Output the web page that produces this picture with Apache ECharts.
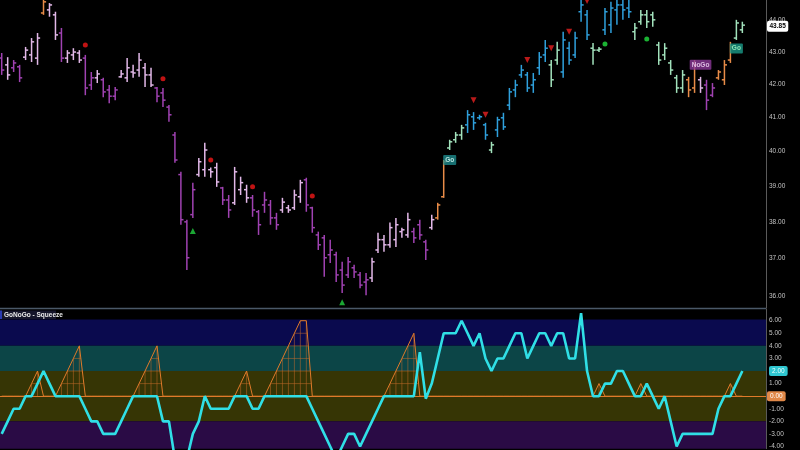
<!DOCTYPE html>
<html><head><meta charset="utf-8">
<script src="https://cdn.jsdelivr.net/npm/echarts@6/dist/echarts.min.js"></script>
<style>html,body{margin:0;padding:0;background:#000;}#c{width:800px;height:450px;}</style>
</head><body><div id="c"></div>
<script>
// ---------- DATA ----------
const opens = [42.81,42.60,42.51,42.54,42.84,42.91,42.81,44.24,44.34,44.18,
43.60,42.81,42.91,42.97,42.81,41.98,42.20,42.14,41.83,41.64,
42.23,42.20,42.38,42.44,42.51,42.29,41.89,41.74,41.31,40.48,
39.33,38.00,38.20,39.33,39.47,39.47,39.53,38.95,38.61,38.53,
38.90,38.90,38.67,38.28,38.47,38.47,38.11,38.33,38.39,38.39,
38.70,39.18,38.39,37.64,37.56,37.10,37.10,36.69,36.56,36.75,
36.56,36.37,36.48,37.23,37.51,37.37,37.51,37.73,37.64,37.73,
37.92,37.45,37.84,38.11,38.70,40.10,40.34,40.48,40.78,41.02,
40.99,40.78,40.04,40.63,40.99,41.37,41.83,42.29,42.29,41.98,
42.51,42.91,42.60,42.75,42.38,43.12,42.91,44.28,44.18,43.12,
43.06,43.70,43.86,44.34,44.50,44.40,43.64,43.96,44.18,44.18,
43.22,42.91,42.66,42.20,41.89,42.14,41.89,42.14,41.98,41.67,
42.20,42.14,42.75,43.44,43.70];
const highs = [42.97,42.84,42.75,42.60,43.16,43.44,43.60,44.92,44.56,44.28,
43.76,43.06,43.12,43.06,42.91,42.38,42.44,42.20,41.98,41.92,
42.44,42.81,42.60,42.97,42.66,42.51,41.92,41.89,41.37,40.57,
39.41,38.06,39.10,39.81,40.25,39.53,39.67,38.98,38.75,39.55,
39.27,39.04,38.75,38.33,38.84,38.61,38.25,38.67,38.47,38.90,
39.18,39.24,38.42,37.73,37.64,37.51,37.18,36.91,37.04,36.83,
36.64,36.61,37.02,37.70,37.64,37.98,38.11,37.84,38.25,37.84,
38.06,37.51,38.20,38.53,39.75,40.34,40.57,40.78,41.22,41.16,
41.08,40.84,40.28,41.02,41.14,41.89,42.14,42.60,42.38,42.35,
43.00,43.38,42.75,43.32,43.64,43.32,43.64,44.82,44.34,43.28,
43.16,44.40,44.60,44.82,44.82,44.82,43.92,44.34,44.34,44.28,
43.32,43.28,42.75,42.29,42.44,42.23,42.75,42.23,42.14,42.04,
42.44,42.75,43.32,44.02,43.96];
const lows = [42.29,42.14,42.38,42.07,42.75,42.69,42.60,44.18,44.12,43.38,
42.69,42.66,42.75,42.66,41.67,41.83,42.04,41.61,41.43,41.52,
42.20,42.07,42.20,42.23,41.92,41.92,41.46,41.31,40.87,39.67,
37.92,36.69,38.11,39.27,39.27,39.24,38.98,38.47,38.11,38.47,
38.75,38.53,38.14,37.64,38.25,37.92,37.78,38.25,38.25,38.33,
38.53,38.28,37.70,37.23,36.51,36.88,36.37,36.08,36.48,36.48,
36.21,36.02,36.37,37.15,37.18,37.29,37.31,37.56,37.56,37.42,
37.51,36.96,37.78,38.06,38.67,40.04,40.25,40.34,40.54,40.63,
40.93,40.34,39.95,40.42,40.63,41.22,41.61,42.20,41.77,41.74,
42.29,42.69,41.92,42.60,42.20,42.60,42.81,43.96,43.38,42.60,
43.00,43.54,43.60,43.86,44.02,44.08,43.38,43.86,43.76,43.80,
42.60,42.75,42.29,41.74,41.74,41.61,41.74,41.74,41.22,41.61,
42.14,41.98,42.66,43.38,43.60];
const closes = [42.44,42.29,42.66,42.20,43.06,43.32,43.44,44.60,44.50,43.54,
42.81,42.97,43.00,42.75,41.89,42.20,42.32,41.77,41.64,41.83,
42.32,42.51,42.35,42.75,42.29,41.98,41.64,41.52,41.08,39.75,
38.06,37.02,38.90,39.70,40.04,39.41,39.12,38.61,38.33,39.41,
39.10,38.67,38.33,37.92,38.61,38.11,37.92,38.55,38.33,38.75,
39.10,38.47,37.84,37.37,37.02,37.23,36.56,36.29,36.91,36.64,
36.29,36.43,36.91,37.51,37.37,37.84,37.92,37.78,38.06,37.56,
37.64,37.23,38.06,38.47,39.70,40.28,40.48,40.69,41.08,40.84,
41.02,40.48,40.19,40.93,40.72,41.77,41.98,42.44,41.89,42.14,
42.84,43.12,42.14,43.06,43.38,42.75,43.44,44.50,43.54,43.06,
43.09,44.28,44.40,44.50,44.34,44.28,43.76,44.18,43.96,44.02,
42.75,43.12,42.44,41.89,42.29,41.83,42.60,41.89,41.52,41.89,
42.38,42.60,43.16,43.92,43.85];
// trend state per bar: P strong NoGo, L weak NoGo, O Go Fish, G weak Go, B strong Go
const trend = ("PLPPLLLOLL"+"PLLLPPLPPP"+"LLLLLLPPPP"+"PPPLLLLPPL"+"LLPPPPPLLL"+
  "LPPPPPPPPP"+"PPLLLLLLLP"+"PPLOOGGGBB"+"BBGBBBBBBB"+"BBGGBBBBBG"+
  "GBBBBBGGGG"+"GGGGGOOLPP"+"OOOGG").split("");
const oscillator = [-3,-2,-1,-1,0,0,1,2,1,0,
 0,0,0,0,-1,-2,-2,-3,-3,-3,
 -2,-1,0,0,0,0,0,-2,-2,-5,
 -6,-5,-3,-2,0,-1,-1,-1,-1,0,
 0,0,-1,-1,0,0,0,0,0,0,
 0,0,-1,-2,-3,-4,-5,-4,-3,-3,
 -4,-3,-2,-1,0,0,0,0,0,0,
 3.5,-0.2,1,3,5,5,5,6,5,4,
 5,3,2,3,3,4,5,5,3,4,
 5,5,4,5,5,3,3,6.6,2,0,
 0,1,1,2,2,1,0,0,1,0,
 -1,0,-2,-4,-3,-3,-3,-3,-3,-3,
 -1,0,0,1,2];
const squeeze = [0,0,0,0,0,1,2,0,0,0,
 1,2,3,4,0,0,0,0,0,0,
 0,0,0,1,2,3,4,0,0,0,
 0,0,0,0,0,0,0,0,0,0,
 1,2,0,0,0,1,2,3,4,5,
 6,6,0,0,0,0,0,0,0,0,
 0,0,0,0,0,1,2,3,4,5,
 0,0,0,0,0,0,0,0,0,0,
 0,0,0,0,0,0,0,0,0,0,
 0,0,0,0,0,0,0,0,0,0,
 1,0,0,0,0,0,0,1,0,0,
 0,0,0,0,0,0,0,0,0,0,
 0,0,1,0,0];
const redDots = [[14,43.22],[27,42.17],[35,39.75],[42,38.98],[52,38.72]];
const greenUp = [[32,37.75],[57,35.84]];
const redDown = [[79,41.52],[81,41.08],[88,42.75],[92,43.12],[95,43.64],[98,44.63]];
const greenDots = [[101,43.25],[108,43.41]];
const signalLabels = [[74,39.75,'Go'],[117,42.60,'NoGo'],[123,43.11,'Go']];
const priceTicks = [36,37,38,39,40,41,42,43,44];
const oscTicks = [-4,-3,-2,-1,0,1,2,3,4,5,6];
const bands = [[4,6.1,'#0a0a4e'],[2,4,'#0c4547'],[-2,2,'#363505'],[-4.17,-2,'#2a0b45']];

// ---------- STYLE ----------
const trendColors = {P:'#a042b2', L:'#e2b8e8', O:'#e88c48', G:'#a2e2bc', B:'#2fa0dc'};
const FONT = 'Liberation Sans';
const priceMin = 35.69, priceMax = 44.66;
const HIDDEN = 'rgba(0,0,0,0)';

const priceData = opens.map((o,i)=>[i, Math.log(o), Math.log(highs[i]), Math.log(lows[i]), Math.log(closes[i])]);

function renderBar(params, api){
  const i = api.value(0);
  const o = api.coord([i, api.value(1)]);
  const h = api.coord([i, api.value(2)]);
  const l = api.coord([i, api.value(3)]);
  const c = api.coord([i, api.value(4)]);
  const col = trendColors[trend[i]];
  const w = 2.6, lw = 1.5;
  return {type:'group', children:[
    {type:'line', shape:{x1:h[0],y1:h[1],x2:l[0],y2:l[1]}, style:{stroke:col,lineWidth:lw}},
    {type:'line', shape:{x1:o[0]-w,y1:o[1],x2:o[0],y2:o[1]}, style:{stroke:col,lineWidth:lw}},
    {type:'line', shape:{x1:c[0],y1:c[1],x2:c[0]+w,y2:c[1]}, style:{stroke:col,lineWidth:lw}}
  ]};
}

function renderLadder(params, api){
  const i = api.value(0), v = api.value(1);
  const children = [];
  const st = {stroke:'#d0702c', lineWidth:0.6, opacity:0.8};
  if (v > 0){
    const b = api.coord([i,0]), t = api.coord([i,v]);
    children.push({type:'line', shape:{x1:b[0],y1:b[1],x2:t[0],y2:t[1]}, style:st});
  }
  if (i+1 < squeeze.length){
    const a = v, b = squeeze[i+1];
    const m = Math.max(a,b);
    for (let k=1; k<m; k++){
      let xa, xb;
      if (k <= Math.min(a,b)) { xa = i; xb = i+1; }
      else if (a > b) { xa = i; xb = i + (a-k)/(a-b); }
      else { xa = i + (k-a)/(b-a); xb = i+1; }
      const p1 = api.coord([xa,k]), p2 = api.coord([xb,k]);
      children.push({type:'line', shape:{x1:p1[0],y1:p1[1],x2:p2[0],y2:p2[1]}, style:st});
    }
  }
  return {type:'group', children};
}

const xCommon = {type:'value', min:-0.285, max:127.96, show:false};
const lastClose = closes[closes.length-1];
const lastOsc = oscillator[oscillator.length-1];

const option = {
  backgroundColor:'#000',
  animation:false,
  textStyle:{fontFamily:FONT},
  grid:[
    {left:0, right:34, top:0, height:308},
    {left:0, right:34, top:309, height:141}
  ],
  xAxis:[Object.assign({gridIndex:0}, xCommon), Object.assign({gridIndex:1}, xCommon)],
  yAxis:[
    {gridIndex:0, type:'value', position:'right', min:Math.log(priceMin), max:Math.log(priceMax),
     splitLine:{show:false}, axisTick:{show:false},
     axisLine:{show:true, onZero:false, lineStyle:{color:'#5a5a5a', width:1}},
     axisLabel:{customValues:priceTicks.map(Math.log), formatter:v=>Math.exp(v).toFixed(2),
       color:'#c4c4c4', fontSize:6.5, margin:3, fontFamily:FONT}},
    {gridIndex:1, type:'value', position:'right', min:-4.17, max:6.93,
     splitLine:{show:false}, axisTick:{show:false},
     axisLine:{show:true, onZero:false, lineStyle:{color:'#5a5a5a', width:1}},
     axisLabel:{customValues:oscTicks, formatter:v=>v.toFixed(2),
       color:'#c4c4c4', fontSize:6.5, margin:3, fontFamily:FONT}}
  ],
  series:[
    {type:'custom', name:'price', xAxisIndex:0, yAxisIndex:0, renderItem:renderBar, clip:true,
     data:priceData, encode:{x:0, y:[1,2,3,4]}, z:3,
     markLine:{silent:true, symbol:['none','none'], lineStyle:{color:HIDDEN, width:0},
       label:{show:true, position:'end', distance:1, formatter:()=>lastClose.toFixed(2),
         backgroundColor:'#ffffff', color:'#000', fontWeight:'bold', fontSize:6.5,
         padding:[2,2.5], borderRadius:2, fontFamily:FONT},
       data:[{yAxis:Math.log(lastClose)}]}},
    {type:'scatter', xAxisIndex:0, yAxisIndex:0, symbol:'circle', symbolSize:5,
     itemStyle:{color:'#f01818'}, data:redDots.map(d=>[d[0],Math.log(d[1])]), z:4},
    {type:'scatter', xAxisIndex:0, yAxisIndex:0, symbol:'triangle', symbolSize:6,
     itemStyle:{color:'#22d040'}, data:greenUp.map(d=>[d[0],Math.log(d[1])]), z:4},
    {type:'scatter', xAxisIndex:0, yAxisIndex:0, symbol:'triangle', symbolRotate:180, symbolSize:6,
     itemStyle:{color:'#e82020'}, data:redDown.map(d=>[d[0],Math.log(d[1])]), z:4},
    {type:'scatter', xAxisIndex:0, yAxisIndex:0, symbol:'circle', symbolSize:5,
     itemStyle:{color:'#22e040'}, data:greenDots.map(d=>[d[0],Math.log(d[1])]), z:4},
    {type:'scatter', xAxisIndex:0, yAxisIndex:0, symbolSize:0, z:6,
     data:signalLabels.map((d,k)=>({value:[d[0],Math.log(d[1])], name:d[2],
       label:(k===0?{offset:[6,0], backgroundColor:'#1d8a8c', color:'#e0fff8'}:
              k===1?{backgroundColor:'#8c3899', color:'#f4dcf8'}:
                    {backgroundColor:'#1a9a88', color:'#a8ffc4'})})),
     label:{show:true, position:'inside', formatter:p=>p.name, fontSize:6.5, fontWeight:'bold',
       padding:[1.5,2], borderRadius:1, fontFamily:FONT}},
    // indicator pane
    {type:'line', name:'squeeze', xAxisIndex:1, yAxisIndex:1, data:squeeze.map((v,i)=>[i,v]),
     symbol:'none', lineStyle:{color:'#e07a2a', width:1}, z:3,
     markArea:{silent:true, data:bands.map(b=>[{yAxis:b[0], itemStyle:{color:b[2]}},{yAxis:b[1]}])},
     markLine:{silent:true, symbol:['none','none'], lineStyle:{color:'#e07a2a', width:1, type:'solid'},
       label:{position:'end', distance:1, formatter:()=>(0).toFixed(2), backgroundColor:'#e08848',
         color:'#fff', fontSize:6.5, padding:[1.5,3], borderRadius:2, fontFamily:FONT},
       data:[{yAxis:0}]}},
    {type:'custom', xAxisIndex:1, yAxisIndex:1, renderItem:renderLadder, clip:true,
     data:squeeze.map((v,i)=>[i,v]), encode:{x:0,y:1}, z:3},
    {type:'line', name:'oscillator', xAxisIndex:1, yAxisIndex:1, data:oscillator.map((v,i)=>[i,v]),
     symbol:'none', lineStyle:{color:'#30dfe6', width:2.6}, z:5,
     markLine:{silent:true, symbol:['none','none'], lineStyle:{color:HIDDEN, width:0},
       label:{show:true, position:'end', distance:3, formatter:()=>lastOsc.toFixed(2), backgroundColor:'#2fc6d0',
         color:'#eaffff', fontSize:6.5, padding:[1.5,3], borderRadius:2, fontFamily:FONT},
       data:[{yAxis:lastOsc}]}}
  ],
  graphic:[
    {type:'line', shape:{x1:0,y1:308.5,x2:766,y2:308.5}, style:{stroke:'#4a5868', lineWidth:1.5}, z:10},
    {type:'rect', shape:{x:0,y:310.5,width:56,height:8.5}, style:{fill:'#15152a'}, z:10},
    {type:'rect', shape:{x:0,y:310.5,width:2,height:8.5}, style:{fill:'#2a3ab0'}, z:11},
    {type:'text', x:4, y:315, style:{text:'GoNoGo - Squeeze', fill:'#eaeaea', fontSize:6.5,
      fontWeight:'bold', fontFamily:FONT, verticalAlign:'middle'}, z:11}
  ]
};
echarts.init(document.getElementById('c')).setOption(option);
</script></body></html>
